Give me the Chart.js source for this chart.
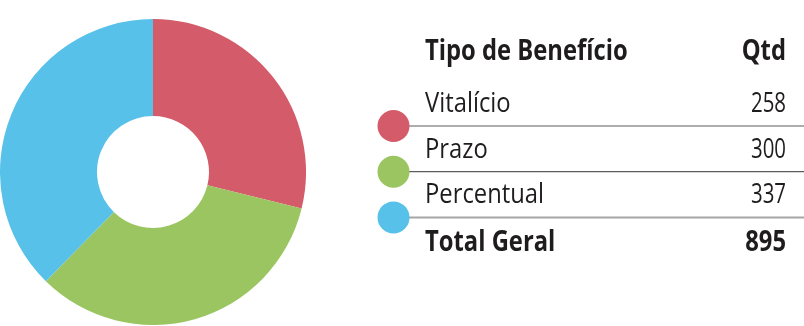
<!DOCTYPE html>
<html><head><meta charset="utf-8">
<script src="https://cdn.jsdelivr.net/npm/chart.js@4"></script>
<style>
html,body{margin:0;padding:0;background:#fff;}
#wrap{position:relative;width:804px;height:326px;overflow:hidden;background:#fff;}
#c{position:absolute;left:0;top:0;}
#legend{position:absolute;left:0;top:0;}
#legend text{font-family:"Open Sans","Noto Sans",sans-serif;font-size:28px;fill:#1f1c1d;}
</style></head><body>
<div id="wrap"><canvas id="c" width="804" height="326"></canvas><svg id="legend" xmlns="http://www.w3.org/2000/svg" width="804" height="326"></svg></div>
<script>
const headers = ['Tipo de Benefício', 'Qtd'];
const categories = ['Vitalício', 'Prazo', 'Percentual'];
const values = [258, 300, 337];
const totalLabel = ['Total Geral'];
const totalValue = [895];
const colors = ['#D45B69', '#9BC561', '#58C1E9'];

new Chart(document.getElementById('c'), {
  type: 'doughnut',
  data: {
    labels: categories,
    datasets: [{ data: values, backgroundColor: colors, borderWidth: 0, hoverOffset: 0 }]
  },
  options: {
    responsive: false,
    animation: false,
    cutout: '36.6%',
    layout: { padding: { left: 0, top: 19, right: 498, bottom: 1 } },
    plugins: { legend: { display: false }, tooltip: { enabled: false } }
  }
});

// SVG table legend built from the data arrays
const NS = 'http://www.w3.org/2000/svg';
const svg = document.getElementById('legend');
const textX = 425, numX = 786;
function txt(s, x, y, bold, anchor, sx, size) {
  const t = document.createElementNS(NS, 'text');
  t.textContent = s;
  t.setAttribute('transform', `translate(${x},${y}) scale(${sx},1)`);
  t.setAttribute('text-anchor', anchor);
  if (bold) t.setAttribute('font-weight', '700');
  if (size) t.style.fontSize = size + 'px';
  svg.appendChild(t);
}
function el(tag, attrs) {
  const e = document.createElementNS(NS, tag);
  for (const k in attrs) e.setAttribute(k, attrs[k]);
  svg.appendChild(e);
  return e;
}
txt(headers[0], textX, 60, true, 'start', 0.85);
txt(headers[1], numX, 60, true, 'end', 0.85);
const base0 = 112, step = 45.7;
categories.forEach((c, i) => {
  const b = base0 + i * step;
  txt(c, textX, b, false, 'start', 0.85);
  txt(String(values[i]), numX, b, false, 'end', 0.73, 28);
  const ly = b + 14;
  const last = i === categories.length - 1;
  el('line', { x1: 400, x2: 804, y1: ly, y2: ly, stroke: last ? '#a6a6a6' : '#5c5c5c', 'stroke-width': last ? 2 : 1.2 });
  el('circle', { cx: 393.5, cy: ly, r: 16, fill: colors[i] });
});
txt(totalLabel[0], textX, 251, true, 'start', 0.85);
txt(String(totalValue[0]), numX, 251, true, 'end', 0.85);
</script>
</body></html>
